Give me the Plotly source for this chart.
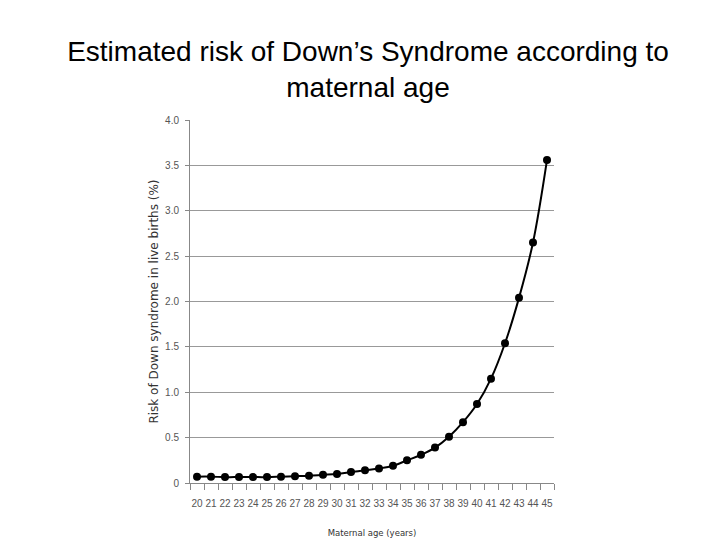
import plotly.graph_objects as go

# --- datos ---
edad = [str(a) for a in range(20, 46)]
riesgo = [0.07, 0.07, 0.065, 0.065, 0.065, 0.065, 0.07, 0.075, 0.08, 0.09,
          0.10, 0.12, 0.14, 0.16, 0.19, 0.25, 0.31, 0.39, 0.51, 0.67,
          0.87, 1.15, 1.54, 2.04, 2.65, 3.56]
y_ticks = [0, 0.5, 1.0, 1.5, 2.0, 2.5, 3.0, 3.5, 4.0]
y_labels = ['0', '0.5', '1.0', '1.5', '2.0', '2.5', '3.0', '3.5', '4.0']

fig = go.Figure()
fig.add_trace(go.Scatter(x=edad, y=riesgo, mode='lines+markers',
                         line=dict(color='black', width=2, shape='spline'),
                         marker=dict(color='black', size=8)))

fig.update_layout(
    width=720, height=540,
    paper_bgcolor='white', plot_bgcolor='white',
    showlegend=False,
    margin=dict(l=182, r=174, t=112, b=65),
    title=dict(text="Estimated risk of Down’s Syndrome according to<br>maternal age",
               x=0.5, xanchor='center', y=0.902, yanchor='middle',
               font=dict(family='Liberation Sans, Arial', size=28, color='black')),
)

fig.update_xaxes(type='category', tickson='boundaries', ticks='outside', ticklen=6,
                 range=[-0.5, len(edad) - 0.5],
                 dtick=1, tickangle=0, ticklabelstandoff=11,
                 tickcolor='#888', showline=True, linecolor='#888', showgrid=False,
                 tickfont=dict(family='Liberation Sans Narrow, Liberation Sans', size=10, color='#555'),
                 title=dict(text='Maternal age (years)', standoff=22,
                            font=dict(family='DejaVu Sans', size=8.5, color='#333')))

fig.update_yaxes(range=[0, 4.0], tickvals=y_ticks, ticktext=y_labels,
                 ticks='outside', ticklen=4, tickcolor='#888', ticklabelstandoff=4,
                 showline=True, linecolor='#888', showgrid=True, gridcolor='#999',
                 gridwidth=1, zeroline=False,
                 tickfont=dict(family='Liberation Sans Narrow, Liberation Sans', size=10, color='#555'),
                 title=dict(text='Risk of Down syndrome in live births (%)', standoff=3,
                            font=dict(family='DejaVu Sans', size=12, color='#333')))

fig.write_html("out.html")
